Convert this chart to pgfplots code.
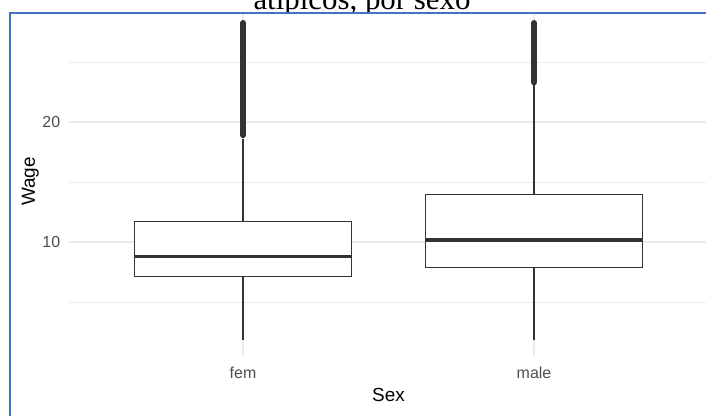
\documentclass[border=0pt]{standalone}
\usepackage{pgfplots}
\pgfplotsset{compat=1.18}
\usepgfplotslibrary{statistics}
\usepackage{fontspec}
\setmainfont{Liberation Sans}
\newfontfamily\seriffont{Liberation Serif}
\definecolor{gridc}{HTML}{EBEBEB}
\definecolor{boxc}{HTML}{333333}
\definecolor{tickc}{HTML}{4D4D4D}
\definecolor{wordblue}{RGB}{68,114,196}
\begin{document}
\begin{tikzpicture}
\useasboundingbox (0,0) rectangle (706bp,416bp);
\begin{scope}
\clip (0,403bp) rectangle (706bp,416bp);
\node[font=\seriffont\fontsize{31}{36}\selectfont, anchor=base, inner sep=0pt] at (362bp,406bp) {atípicos, por sexo};
\end{scope}
\begin{scope}
\clip (9.5bp,0) rectangle (706bp,403bp);
\begin{axis}[
  at={(68.4bp,60bp)}, anchor=south west,
  scale only axis, width=640.2bp, height=349.2bp,
  xmin=0.4, xmax=2.6, ymin=0.5, ymax=29.6,
  axis line style={draw=none},
  major tick length=0pt, minor tick length=0pt,
  tick style={draw=none},
  xtick={1,2}, xticklabels={fem,male},
  ytick={10,20}, minor ytick={5,15,25},
  /pgf/number format/assume math mode=true,
  xmajorgrids, ymajorgrids, yminorgrids,
  major grid style={gridc, line width=1.6bp},
  minor grid style={gridc, line width=0.9bp},
  ticklabel style={font=\fontsize{16}{19}\selectfont, text=tickc},
  xticklabel style={anchor=north, inner sep=0pt, yshift=-11bp},
  yticklabel style={anchor=east, inner sep=0pt, xshift=-8bp},
  xlabel={Sex}, ylabel={Wage},
  label style={font=\fontsize{19}{22}\selectfont, text=black},
  xlabel style={at={(axis description cs:0.5,0)}, anchor=base, yshift=-45bp, inner sep=0pt},
  ylabel style={at={([xshift=-33.4bp]axis description cs:0,0.5)}, anchor=base, inner sep=0pt},
  boxplot/draw direction=y,
  boxplot/whisker extend=0,
  boxplot/every median/.style={line width=3.2bp},
  boxplot/every box/.style={line width=1.5bp},
  clip=false,
]
% fem
\addplot[draw=boxc, line width=1.1bp, fill=white, solid, mark=none,
  boxplot prepared={draw position=1, lower whisker=1.83, lower quartile=7.11,
  median=8.78, upper quartile=11.7, upper whisker=18.6, box extend=0.746}]
  coordinates {};
% male
\addplot[draw=boxc, line width=1.1bp, fill=white, solid, mark=none,
  boxplot prepared={draw position=2, lower whisker=1.83, lower quartile=7.89,
  median=10.17, upper quartile=13.97, upper whisker=23.1, box extend=0.746}]
  coordinates {};
% outliers (dense, overlapping points)
\addplot[boxc, line width=6bp, line cap=round, mark=none] coordinates {(1,18.9) (1,28.25)};
\addplot[boxc, line width=6bp, line cap=round, mark=none] coordinates {(2,23.3) (2,28.25)};
\end{axis}
\end{scope}
\draw[wordblue, line width=2bp] (9.5bp,-5bp) -- (9.5bp,402.7bp) -- (720bp,402.7bp);
\end{tikzpicture}
\end{document}
